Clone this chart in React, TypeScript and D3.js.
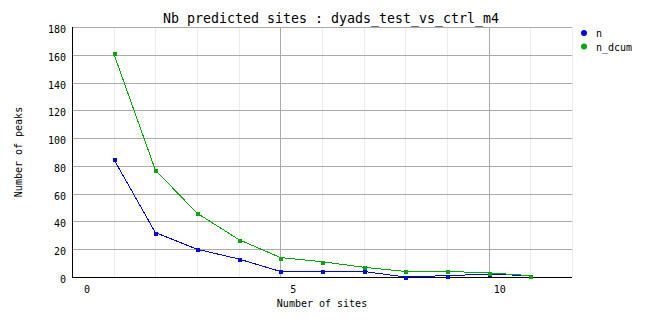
import React from "react";
import * as d3 from "d3";

const title = "Nb predicted sites : dyads_test_vs_ctrl_m4";
const xLabel = "Number of sites";
const yLabel = "Number of peaks";
const seriesNames = ["n", "n_dcum"];
const seriesColors = ["#0000ff", "#00a800"];
const xPositions = [1, 2, 3, 4, 5, 6, 7, 8, 9, 10, 11];
const nValues = [85, 32, 20, 13, 4, 4, 4, 0, 1, 2, 1];
const nDcumValues = [161, 77, 46, 27, 14, 11, 7, 4, 4, 3, 1];
const xTickValues = [0, 5, 10];
const xTickLabels = ["0", "5", "10"];
const yTickValues = [0, 20, 40, 60, 80, 100, 120, 140, 160, 180];

const W = 662;
const H = 328;
const M = { left: 72, right: 90, top: 27, bottom: 51 };

export default function App() {
  const x = d3.scaleLinear().domain([0, 12]).range([M.left, W - M.right]);
  const y = d3.scaleLinear().domain([0, 180]).range([H - M.bottom, M.top]);
  // tick labels sit on a slightly offset scale in the reference
  const xLab = d3.scaleLinear().domain([0, 10]).range([x(0) + 15, x(10) + 11]);
  const series = [nValues, nDcumValues];
  const line = d3
    .line<number>()
    .x((_, i) => x(xPositions[i]))
    .y((d) => y(d));
  const minorX = d3.range(1, 13).filter((v) => !xTickValues.includes(v));
  const mono = "'DejaVu Sans Mono', monospace";

  return (
    <svg
      width={W}
      height={H}
      style={{ position: "absolute", left: 0, top: 0, background: "#fff" }}
    >
      <rect x={0} y={0} width={W} height={H} fill="#fff" />
      {minorX.map((v) => (
        <line
          key={"mx" + v}
          x1={Math.round(x(v)) + 0.5}
          x2={Math.round(x(v)) + 0.5}
          y1={y(180)}
          y2={y(0)}
          stroke="#ececec"
          shapeRendering="crispEdges"
        />
      ))}
      {yTickValues.slice(1).map((v) => (
        <line
          key={"hy" + v}
          x1={x(0)}
          x2={x(12)}
          y1={Math.round(y(v)) + 0.5}
          y2={Math.round(y(v)) + 0.5}
          stroke="#aaaaaa"
          shapeRendering="crispEdges"
        />
      ))}
      {xTickValues.slice(1).map((v) => (
        <line
          key={"vx" + v}
          x1={Math.round(x(v)) + 0.5}
          x2={Math.round(x(v)) + 0.5}
          y1={y(180)}
          y2={y(0)}
          stroke="#aaaaaa"
          shapeRendering="crispEdges"
        />
      ))}
      <line
        x1={Math.round(x(0)) + 0.5}
        x2={Math.round(x(0)) + 0.5}
        y1={y(180)}
        y2={y(0) + 1}
        stroke="#000"
        shapeRendering="crispEdges"
      />
      <line
        x1={x(0)}
        x2={x(12)}
        y1={Math.round(y(0)) + 0.5}
        y2={Math.round(y(0)) + 0.5}
        stroke="#000"
        shapeRendering="crispEdges"
      />
      {yTickValues.map((v) => (
        <text
          key={"yl" + v}
          x={x(0) - 6}
          y={y(v) + 6}
          textAnchor="end"
          fontFamily={mono}
          fontSize={10}
          fill="#000"
        >
          {v}
        </text>
      ))}
      {xTickValues.map((v, i) => (
        <text
          key={"xl" + v}
          x={xLab(v)}
          y={y(0) + 16}
          textAnchor="middle"
          fontFamily={mono}
          fontSize={10}
          fill="#000"
        >
          {xTickLabels[i]}
        </text>
      ))}
      {series.map((vals, si) => (
        <g key={"s" + si}>
          <path
            d={line(vals) || ""}
            fill="none"
            stroke={seriesColors[si]}
            strokeWidth={1}
            shapeRendering="crispEdges"
          />
          {vals.map((v, i) => (
            <rect
              key={i}
              x={Math.round(x(xPositions[i])) - 1.5}
              y={Math.round(y(v)) - 1.5}
              width={4}
              height={4}
              fill={seriesColors[si]}
              shapeRendering="crispEdges"
            />
          ))}
        </g>
      ))}
      <text
        x={W / 2}
        y={23}
        textAnchor="middle"
        fontFamily={mono}
        fontSize={13.3}
        fill="#000"
      >
        {title}
      </text>
      <text
        x={(x(0) + x(12)) / 2}
        y={y(0) + 30}
        textAnchor="middle"
        fontFamily={mono}
        fontSize={10}
        fill="#000"
      >
        {xLabel}
      </text>
      <text
        transform={`translate(${22},${(y(0) + y(180)) / 2}) rotate(-90)`}
        textAnchor="middle"
        fontFamily={mono}
        fontSize={10}
        fill="#000"
      >
        {yLabel}
      </text>
      {seriesNames.map((name, i) => (
        <g key={"lg" + i}>
          <circle cx={584} cy={33 + i * 13.5} r={3} fill={seriesColors[i]} />
          <text
            x={596}
            y={37 + i * 13.5}
            fontFamily={mono}
            fontSize={10}
            fill="#000"
          >
            {name}
          </text>
        </g>
      ))}
    </svg>
  );
}
